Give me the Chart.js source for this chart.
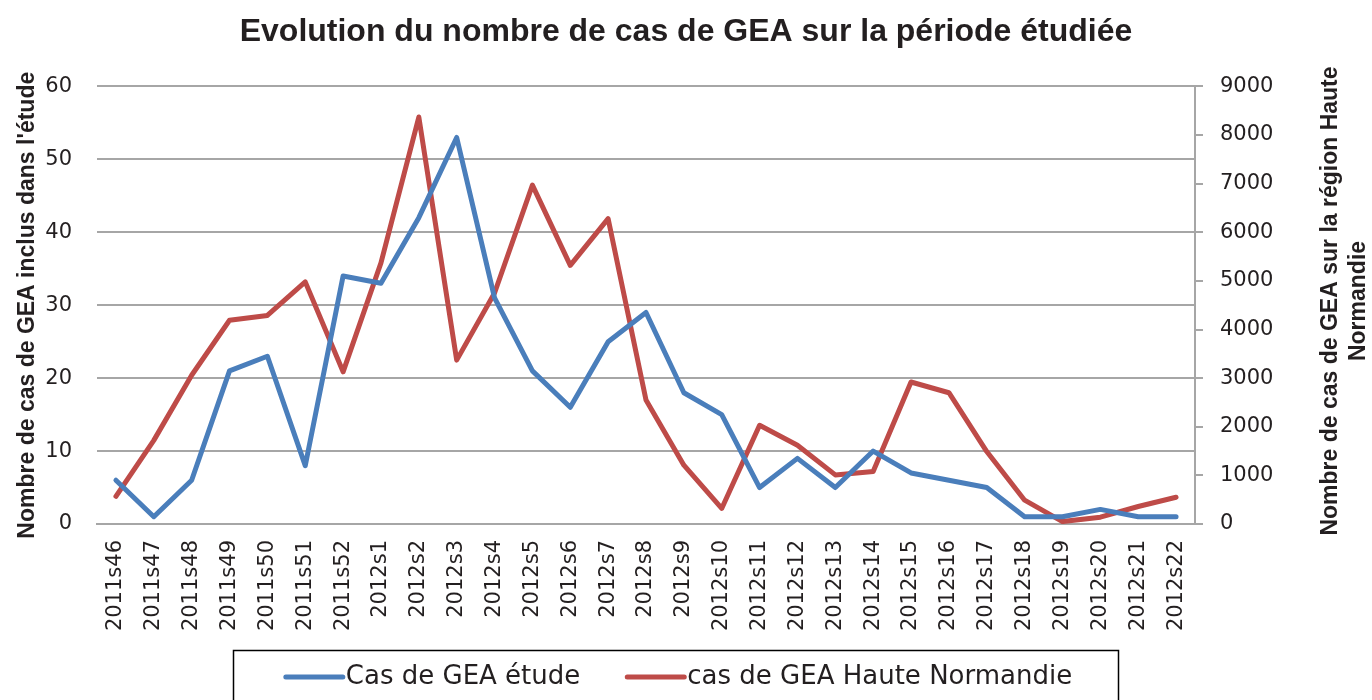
<!DOCTYPE html>
<html>
<head>
<meta charset="utf-8">
<script src="https://cdn.jsdelivr.net/npm/chart.js@4"></script>
<style>
  body { margin: 0; background: #fff; }
  canvas { display: block; }
</style>
</head>
<body>
<canvas id="gea" width="1372" height="700"></canvas>
<script>
const weeks = [
    '2011s46', '2011s47', '2011s48', '2011s49', '2011s50', '2011s51', '2011s52',
    '2012s1', '2012s2', '2012s3', '2012s4', '2012s5', '2012s6', '2012s7', '2012s8',
    '2012s9', '2012s10', '2012s11', '2012s12', '2012s13', '2012s14', '2012s15',
    '2012s16', '2012s17', '2012s18', '2012s19', '2012s20', '2012s21', '2012s22'
];
// nombre de cas inclus dans l'étude (axe gauche)
const casEtude = [6, 1, 6, 21, 23, 8, 34, 33, 42, 53, 31, 21, 16, 25, 29, 18, 15, 5, 9, 5, 10, 7, 6, 5, 1, 1, 2, 1, 1];
// cas Haute Normandie (axe droit)
const casRegion = [570, 1720, 3060, 4190, 4290, 4980, 3130, 5370, 8370, 3370, 4750, 6970, 5320, 6280, 2550,
    1210, 320, 2030, 1620, 1010, 1080, 2920, 2700, 1490, 490, 50, 140, 360, 550];
const leftTicks = { min: 0, max: 60, step: 10 };
const rightTicks = { min: 0, max: 9000, step: 1000 };

const txt = '#231F20';
const gridGray = '#A6A6A6';

// titre de l'axe droit (lu de bas en haut) et légende encadrée
const extras = {
    id: 'extras',
    afterDraw(chart) {
        const ctx = chart.ctx;
        ctx.save();
        ctx.fillStyle = txt;
        ctx.font = 'bold 23px "Liberation Sans"';
        ctx.textAlign = 'center';
        ctx.textBaseline = 'middle';
        ctx.translate(1331, 301);
        ctx.rotate(-Math.PI / 2);
        ctx.fillText('Nombre de cas de GEA sur la région Haute', 0, 0);
        ctx.fillText('Normandie', 0, 28);
        ctx.restore();

        ctx.save();
        ctx.strokeStyle = '#000';
        ctx.lineWidth = 1.5;
        ctx.strokeRect(233.5, 650.5, 885, 70);
        ctx.font = '26px "DejaVu Sans"';
        ctx.textBaseline = 'middle';
        const sample = 57, gap = 3, between = 47, y = 677;
        const items = chart.data.datasets.map(ds => ({ label: ds.label, color: ds.borderColor }));
        let total = 0;
        items.forEach((it, i) => {
            it.w = ctx.measureText(it.label).width;
            total += sample + gap + it.w + (i ? between : 0);
        });
        let x = 679 - total / 2;
        items.forEach((it) => {
            ctx.strokeStyle = it.color;
            ctx.lineWidth = 5;
            ctx.lineCap = 'round';
            ctx.beginPath();
            ctx.moveTo(x, y);
            ctx.lineTo(x + sample, y);
            ctx.stroke();
            ctx.fillStyle = txt;
            ctx.fillText(it.label, x + sample + gap, y);
            x += sample + gap + it.w + between;
        });
        ctx.restore();
    }
};

new Chart(document.getElementById('gea').getContext('2d'), {
    type: 'line',
    data: {
        labels: weeks,
        datasets: [{
            label: 'Cas de GEA étude',
            data: casEtude,
            yAxisID: 'y',
            borderColor: '#4A7EBB',
            backgroundColor: '#4A7EBB',
            borderWidth: 5,
            pointRadius: 0,
            tension: 0,
            borderJoinStyle: 'round',
            borderCapStyle: 'round'
        }, {
            label: 'cas de GEA Haute Normandie',
            data: casRegion,
            yAxisID: 'y1',
            borderColor: '#BE4B48',
            backgroundColor: '#BE4B48',
            borderWidth: 5,
            pointRadius: 0,
            tension: 0,
            borderJoinStyle: 'round',
            borderCapStyle: 'round'
        }]
    },
    options: {
        responsive: false,
        devicePixelRatio: 1,
        animation: false,
        layout: { padding: { left: 0, right: 0, top: 0, bottom: 48 } },
        plugins: {
            legend: { display: false },
            tooltip: { enabled: false },
            title: {
                display: true,
                text: 'Evolution du nombre de cas de GEA sur la période étudiée',
                color: txt,
                font: { family: '"Liberation Sans"', size: 32, weight: 'bold' },
                padding: { top: 13, bottom: 35 }
            }
        },
        scales: {
            x: {
                offset: true,
                grid: { display: false },
                border: { display: true, color: gridGray, width: 2 },
                ticks: {
                    color: txt,
                    font: { family: '"DejaVu Sans"', size: 21 },
                    minRotation: 90,
                    maxRotation: 90,
                    autoSkip: false,
                    padding: 8
                },
                afterFit: (s) => { s.height = 128; }
            },
            y: {
                position: 'left',
                min: leftTicks.min,
                max: leftTicks.max,
                grid: { color: gridGray, lineWidth: 2, drawTicks: false },
                border: { display: false },
                ticks: {
                    stepSize: leftTicks.step,
                    color: txt,
                    font: { family: '"DejaVu Sans"', size: 21 },
                    padding: 25
                },
                title: {
                    display: true,
                    text: "Nombre de cas de GEA inclus dans l'étude",
                    color: txt,
                    font: { family: '"Liberation Sans"', size: 23, weight: 'bold' },
                    padding: { top: 14, bottom: 0 }
                },
                afterFit: (s) => { s.width = 97; }
            },
            y1: {
                position: 'right',
                min: rightTicks.min,
                max: rightTicks.max,
                grid: { drawOnChartArea: false, color: gridGray, lineWidth: 2, tickLength: 8 },
                border: { display: true, color: gridGray, width: 2 },
                ticks: {
                    stepSize: rightTicks.step,
                    color: txt,
                    font: { family: '"DejaVu Sans"', size: 21 },
                    padding: 17,
                    callback: (v) => String(v)
                },
                afterFit: (s) => { s.width = 177; }
            }
        }
    },
    plugins: [extras]
});
</script>
</body>
</html>
